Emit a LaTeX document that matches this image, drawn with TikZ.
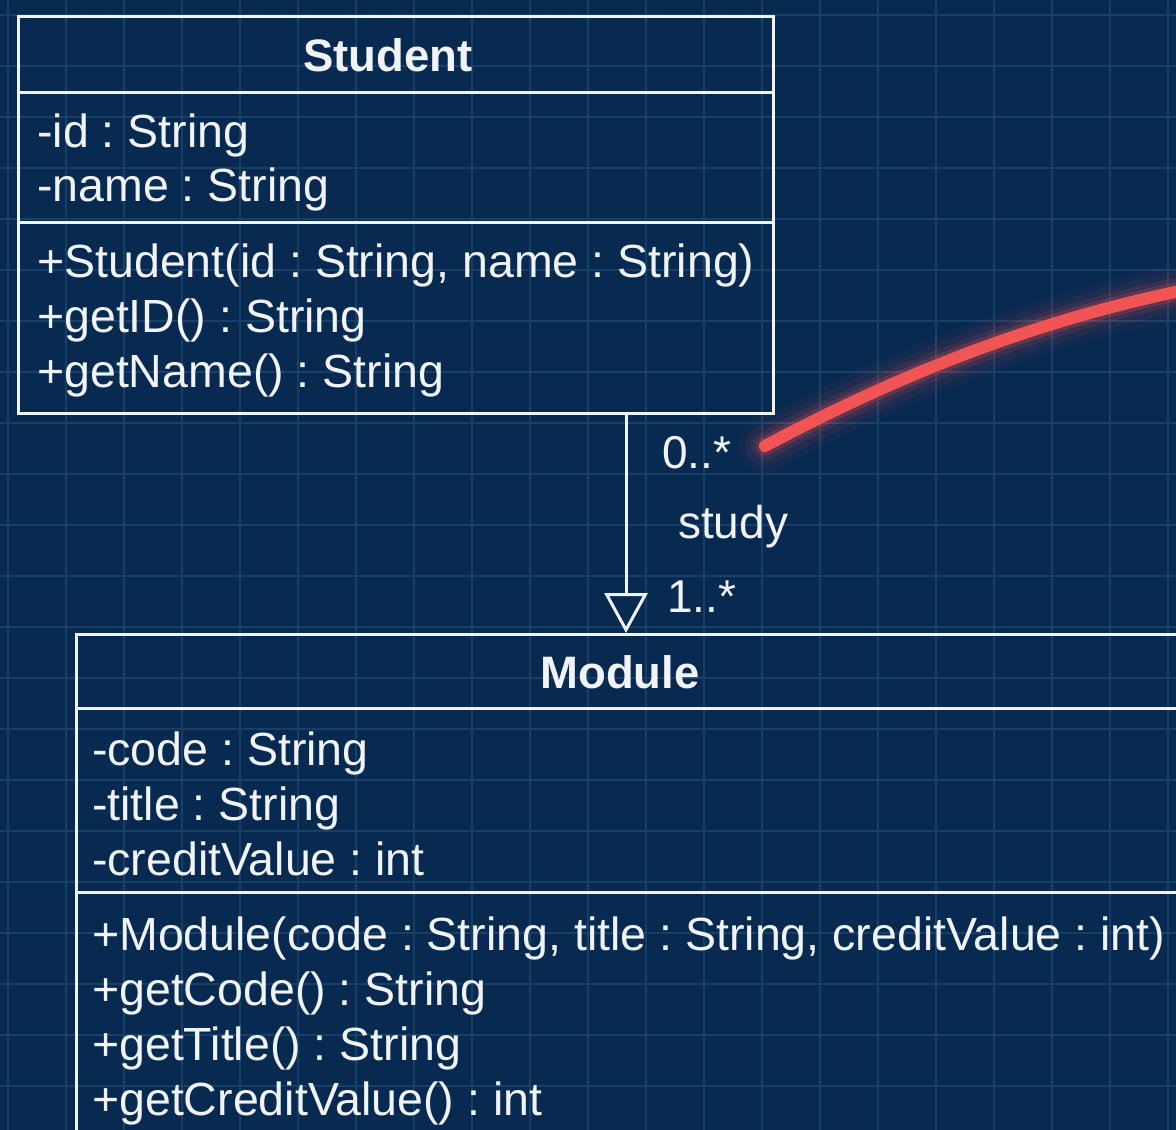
\documentclass[tikz,border=0pt]{standalone}
\usepackage{fontspec}
\setmainfont{Liberation Sans}
\usetikzlibrary{arrows.meta}
\frenchspacing

\definecolor{bg}{RGB}{8,41,80}
\definecolor{gridc}{RGB}{24,64,102}
\definecolor{ink}{RGB}{240,244,248}
\definecolor{marker}{RGB}{240,84,84}

\tikzset{
  gridline/.style={draw=gridc, line width=1.3pt},
  classbox/.style={draw=ink, line width=3pt, rectangle, inner sep=0pt},
  divider/.style={draw=ink, line width=3pt},
  member/.style={anchor=base west, inner sep=0pt, text=ink,
    font=\fontsize{46.5}{55}\selectfont},
  classname/.style={anchor=base, inner sep=0pt, text=ink,
    font=\fontsize{45.5}{55}\selectfont\bfseries},
  rolelabel/.style={anchor=base west, inner sep=0pt, text=ink,
    font=\fontsize{46}{55}\selectfont},
  assoc/.style={draw=ink, line width=3pt,
    -{Triangle[open, width=43pt, length=40pt, line width=3pt]}},
  glow/.style={draw=marker, line cap=round},
}

\begin{document}
\begin{tikzpicture}[x=1pt, y=-1pt]
  % backdrop and blueprint grid
  \fill[bg] (0,0) rectangle (1176,1130);
  \useasboundingbox (0,0) rectangle (1176,1130);
  \foreach \gx in {8,66,...,1176} \draw[gridline] (\gx,0) -- (\gx,1130);
  \foreach \gy in {15,66,...,1130} \draw[gridline] (0,\gy) -- (1176,\gy);

  % Student class
  \node[classbox, minimum width=755pt, minimum height=397pt, anchor=north west]
    (student) at (17,15) {};
  \draw[divider] ([yshift=-77pt]student.north west) -- ([yshift=-77pt]student.north east);
  \draw[divider] ([yshift=-207pt]student.north west) -- ([yshift=-207pt]student.north east);
  \node[classname] (studentname) at (388,71) {Student};
  \node[member] (sattr1) at (37,147) {-id : String};
  \node[member] (sattr2) at (37,201) {-name : String};
  \node[member] (sop1) at (37,277) {+Student(id : String, name : String)};
  \node[member] (sop2) at (37,332) {+getID() : String};
  \node[member] (sop3) at (37,387) {+getName() : String};

  % Module class
  \node[classbox, minimum width=1125pt, minimum height=525pt, anchor=north west]
    (module) at (75,633) {};
  \draw[divider] ([yshift=-75pt]module.north west) -- ([yshift=-75pt]module.north east);
  \draw[divider] ([yshift=-259pt]module.north west) -- ([yshift=-259pt]module.north east);
  \node[classname] (modulename) at (620,688) {Module};
  \node[member] (mattr1) at (92,765) {-code : String};
  \node[member] (mattr2) at (92,820) {-title : String};
  \node[member] (mattr3) at (92,875) {-creditValue : int};
  \node[member] (mop1) at (92,950) {+Module(code : String, title : String, creditValue : int)};
  \node[member] (mop2) at (92,1005) {+getCode() : String};
  \node[member] (mop3) at (92,1060) {+getTitle() : String};
  \node[member] (mop4) at (92,1115) {+getCreditValue() : int};

  % association Student -> Module
  \coordinate (axis) at (626,0);
  \draw[assoc] (axis |- student.south) -- (axis |- module.north);
  \node[rolelabel] (srcmult) at (662,468) {0..*};
  \node[rolelabel] (assocname) at (678,538) {study};
  \node[rolelabel] (dstmult) at (667,612) {1..*};

  % red highlighter stroke with soft glow
  \coordinate (m0) at (765,446);
  \coordinate (m1) at (1200,287);
  \foreach \w/\o in {54/0.04, 40/0.07, 28/0.12, 19/0.2} {
    \draw[glow, line width=\w pt, opacity=\o]
      (m0) .. controls (900,374) and (1040,318) .. (m1);
  }
  \draw[glow, line width=12pt]
    (m0) .. controls (900,374) and (1040,318) .. (m1);
\end{tikzpicture}
\end{document}
